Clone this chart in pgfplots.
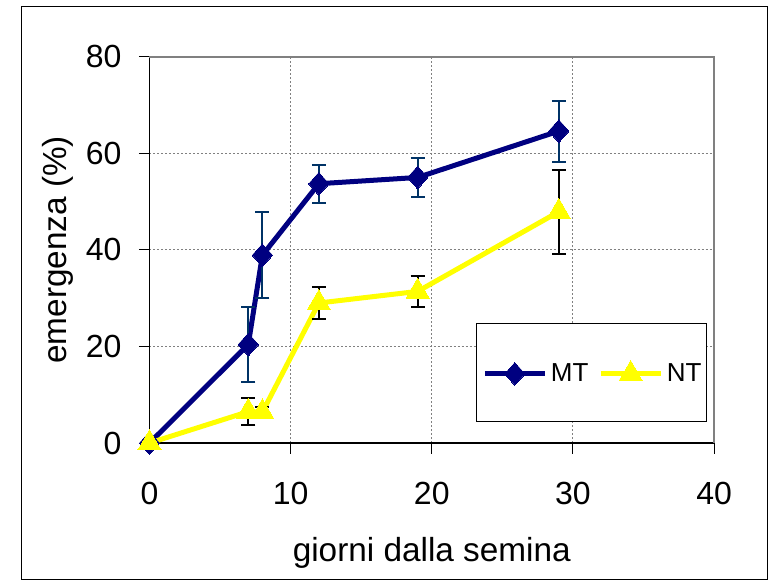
\documentclass[border=0pt]{standalone}
\usepackage{fontspec}
\setmainfont{Liberation Sans}
\usepackage{pgfplots}
\usepackage{pgfplotstable}
\pgfplotsset{compat=1.18}

\definecolor{mtline}{RGB}{0,0,128}
\definecolor{mterr}{RGB}{0,51,102}
\definecolor{ntline}{RGB}{255,255,0}
\definecolor{gridgray}{RGB}{128,128,128}

% emergence (%) with standard errors, by days after sowing
\pgfplotstableread{
x  y     e
0  0     0
7  20.4  7.8
8  38.9  8.9
12 53.7  3.95
19 55.0  4.05
29 64.6  6.3
}\mtdata
\pgfplotstableread{
x  y     e
0  0     0
7  6.5   2.8
8  6.4   1.0
12 29.0  3.3
19 31.4  3.25
29 47.9  8.7
}\ntdata

\newcommand{\bigfont}{\fontsize{24}{28}\selectfont}
\newcommand{\labfont}{\fontsize{25}{29}\selectfont}
\newcommand{\legfont}{\fontsize{19.5}{22}\selectfont}

\begin{document}
\begin{tikzpicture}
% page extent and outer frame
\path (-112.1pt,-102.75pt) rectangle (464.6pt,332.25pt);
\draw[black, line width=0.75pt] (-96pt,-102pt) rectangle (463.1pt,327.4pt);

\begin{axis}[
  scale only axis,
  width=423.4pt, height=289.7pt,
  xmin=0, xmax=40, ymin=0, ymax=80,
  xtick={0,10,20,30,40}, ytick={0,20,40,60,80},
  axis lines*=left,
  axis line style={-, black, line width=1.1pt},
  grid=major,
  major grid style={gridgray, line width=0.75pt, dash pattern=on 1.5pt off 1.5pt},
  tick align=outside,
  major tick length=8pt,
  tick style={black, line width=0.75pt},
  /pgf/number format/assume math mode=true,
  tick label style={font=\bigfont},
  yticklabel style={anchor=east, inner sep=0pt, xshift=-12.85pt},
  xticklabel style={anchor=north, inner sep=0pt, yshift=-21pt},
  legend columns=2,
  legend style={at={(0.988,0.0535)}, anchor=south east, draw=black,
    line width=0.75pt, inner xsep=4pt, inner ysep=27.5pt, font=\legfont,
    nodes={inner sep=0pt},
    /tikz/every odd column/.append style={column sep=2.7pt},
    /tikz/every even column/.append style={column sep=7.3pt}},
  legend image code/.code={\draw[mark repeat=2, mark phase=2, #1]
    plot coordinates {(0pt,0pt) (22.5pt,0pt) (45pt,0pt)};},
]
\addplot[mtline, line width=3.75pt, mark=diamond*, mark size=8.5pt,
  mark options={solid, fill=mtline, draw=mtline, line width=0pt, xscale=1.2},
  error bars/.cd, y dir=both, y explicit, error mark=-,
  error bar style={mterr, line width=1.5pt},
  error mark options={rotate=90, mterr, line width=1.5pt, mark size=5.25pt}]
  table[x=x, y=y, y error=e] {\mtdata};
\addlegendentry{MT}
\addplot[ntline, line width=3.75pt, mark=triangle*, mark size=10pt,
  mark options={solid, fill=ntline, draw=ntline, line width=0pt},
  error bars/.cd, y dir=both, y explicit, error mark=-,
  error bar style={black, line width=1.5pt},
  error mark options={rotate=90, black, line width=1.5pt, mark size=5.25pt}]
  table[x=x, y=y, y error=e] {\ntdata};
\addlegendentry{NT}
\end{axis}

% plot area border on the top and right
\draw[gridgray, line width=1.5pt] (0,289.7pt) -- (423.4pt,289.7pt) -- (423.4pt,0);

% axis titles
\node[font=\labfont, anchor=base] at (211.7pt,-89pt) {giorni dalla semina};
\node[font=\labfont, anchor=base, rotate=90] at (-62.1pt,144.9pt) {emergenza (\%)};
\end{tikzpicture}
\end{document}
